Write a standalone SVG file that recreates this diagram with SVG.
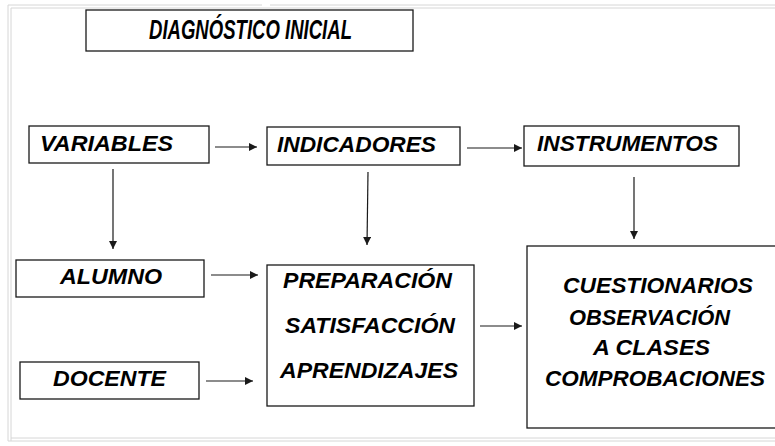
<svg xmlns="http://www.w3.org/2000/svg" width="775" height="446" viewBox="0 0 775 446">
<defs>
<style>
.box{fill:#fff;stroke:#1a1a1a;stroke-width:1.3}
.t{font-family:"Liberation Sans",Arial,sans-serif;font-weight:bold;font-style:italic;font-size:22px;fill:#000}
.title{font-size:27px}
.ln{stroke:#1a1a1a;stroke-width:1.2;fill:none}
.frame{fill:none;stroke:#d6d6d6;stroke-width:1}
</style>
<marker id="ah" viewBox="0 0 10 10" refX="10" refY="5" markerWidth="8" markerHeight="8" markerUnits="userSpaceOnUse" orient="auto">
<path d="M0,0 L10,5 L0,10 Z" fill="#1a1a1a"/>
</marker>
</defs>
<rect width="775" height="446" fill="#fff"/>
<g id="frame">
<path class="frame" d="M8,441 L8,5 L262,5 M270,5 L780,5"/>
<path class="frame" d="M11,441 L11,8 L780,8"/>
<path class="frame" d="M8,441 L780,441 M11,438 L780,438"/>
</g>
<g id="title">
<rect class="box" x="86" y="10" width="327" height="41"/>
<text class="t title" x="149" y="39" textLength="203" lengthAdjust="spacingAndGlyphs">DIAGNÓSTICO INICIAL</text>
</g>
<g id="variables">
<rect class="box" x="29" y="126" width="180" height="37"/>
<text class="t" x="40" y="151" textLength="133" lengthAdjust="spacingAndGlyphs">VARIABLES</text>
</g>
<g id="indicadores">
<rect class="box" x="267" y="127" width="193" height="38"/>
<text class="t" x="277" y="152" textLength="159" lengthAdjust="spacingAndGlyphs">INDICADORES</text>
</g>
<g id="instrumentos">
<rect class="box" x="524" y="126" width="215" height="40"/>
<text class="t" x="537" y="151" textLength="181" lengthAdjust="spacingAndGlyphs">INSTRUMENTOS</text>
</g>
<g id="alumno">
<rect class="box" x="16" y="260" width="188" height="37"/>
<text class="t" x="60" y="284" textLength="102" lengthAdjust="spacingAndGlyphs">ALUMNO</text>
</g>
<g id="docente">
<rect class="box" x="20" y="362" width="179" height="37"/>
<text class="t" x="53" y="386" textLength="113" lengthAdjust="spacingAndGlyphs">DOCENTE</text>
</g>
<g id="indicadores-lista">
<rect class="box" x="267" y="265" width="207" height="141"/>
<text class="t" x="283" y="288" textLength="169" lengthAdjust="spacingAndGlyphs">PREPARACIÓN</text>
<text class="t" x="285" y="333" textLength="170" lengthAdjust="spacingAndGlyphs">SATISFACCIÓN</text>
<text class="t" x="280" y="378" textLength="178" lengthAdjust="spacingAndGlyphs">APRENDIZAJES</text>
</g>
<g id="instrumentos-lista">
<rect class="box" x="527" y="246" width="260" height="182"/>
<text class="t" x="563" y="293" textLength="190" lengthAdjust="spacingAndGlyphs">CUESTIONARIOS</text>
<text class="t" x="569" y="325" textLength="161" lengthAdjust="spacingAndGlyphs">OBSERVACIÓN</text>
<text class="t" x="593" y="355" textLength="117" lengthAdjust="spacingAndGlyphs">A CLASES</text>
<text class="t" x="545" y="386" textLength="220" lengthAdjust="spacingAndGlyphs">COMPROBACIONES</text>
</g>
<g id="connectors">
<line class="ln" x1="215" y1="147" x2="257" y2="147" marker-end="url(#ah)"/>
<line class="ln" x1="467" y1="148" x2="522" y2="148" marker-end="url(#ah)"/>
<line class="ln" x1="113" y1="169" x2="113" y2="249" marker-end="url(#ah)"/>
<line class="ln" x1="368" y1="172" x2="367" y2="245" marker-end="url(#ah)"/>
<line class="ln" x1="634" y1="177" x2="634" y2="239" marker-end="url(#ah)"/>
<line class="ln" x1="211" y1="275" x2="258" y2="275" marker-end="url(#ah)"/>
<line class="ln" x1="206" y1="381" x2="253" y2="381" marker-end="url(#ah)"/>
<line class="ln" x1="480" y1="326" x2="522" y2="326" marker-end="url(#ah)"/>
</g>
</svg>
